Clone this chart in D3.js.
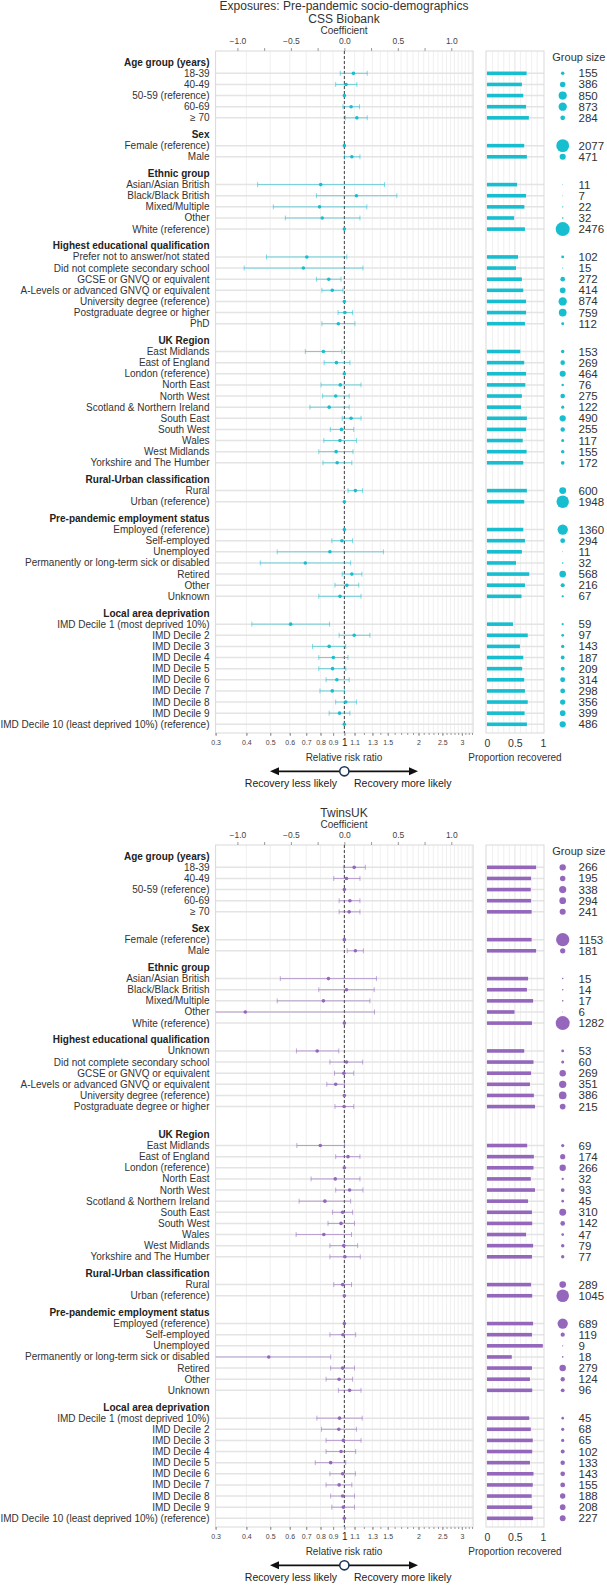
<!DOCTYPE html>
<html>
<head>
<meta charset="utf-8">
<script src="https://cdn.jsdelivr.net/npm/d3@7"></script>
<style>
  body { margin: 0; background: #fff; }
  text { font-family: "Liberation Sans", Arial, sans-serif; }
</style>
</head>
<body>
<svg id="chart"></svg>
<script>
// forest plot + proportion recovered, two cohorts stacked

var width = 607;
var height = 1585;

var groupNames = ["Age group (years)", "Sex", "Ethnic group", "Highest educational qualification",
  "UK Region", "Rural-Urban classification", "Pre-pandemic employment status", "Local area deprivation"];

var regionLabels = ["East Midlands", "East of England", "London (reference)", "North East", "North West",
  "Scotland & Northern Ireland", "South East", "South West", "Wales", "West Midlands", "Yorkshire and The Humber"];
var imdLabels = ["IMD Decile 1 (most deprived 10%)", "IMD Decile 2", "IMD Decile 3", "IMD Decile 4", "IMD Decile 5",
  "IMD Decile 6", "IMD Decile 7", "IMD Decile 8", "IMD Decile 9", "IMD Decile 10 (least deprived 10%) (reference)"];
var employLabels = ["Employed (reference)", "Self-employed", "Unemployed", "Permanently or long-term sick or disabled",
  "Retired", "Other", "Unknown"];

var cssLabels = [
  ["18-39", "40-49", "50-59 (reference)", "60-69", "\u2265 70"],
  ["Female (reference)", "Male"],
  ["Asian/Asian British", "Black/Black British", "Mixed/Multiple", "Other", "White (reference)"],
  ["Prefer not to answer/not stated", "Did not complete secondary school", "GCSE or GNVQ or equivalent",
   "A-Levels or advanced GNVQ or equivalent", "University degree (reference)", "Postgraduate degree or higher", "PhD"],
  regionLabels,
  ["Rural", "Urban (reference)"],
  employLabels,
  imdLabels
];

var twinsLabels = [
  ["18-39", "40-49", "50-59 (reference)", "60-69", "\u2265 70"],
  ["Female (reference)", "Male"],
  ["Asian/Asian British", "Black/Black British", "Mixed/Multiple", "Other", "White (reference)"],
  ["Unknown", "Did not complete secondary school", "GCSE or GNVQ or equivalent",
   "A-Levels or advanced GNVQ or equivalent", "University degree (reference)", "Postgraduate degree or higher", ""],
  regionLabels,
  ["Rural", "Urban (reference)"],
  employLabels,
  imdLabels
];

// coefficients (log relative risk), CI bounds; null = no interval
var cssEst = [0.085, 0.016, 0, 0.063, 0.117, 0, 0.07,
  -0.221, 0.113, -0.232, -0.207, 0,
  -0.351, -0.383, -0.146, -0.113, 0, 0.005, -0.056,
  -0.196, -0.074, 0, -0.038, -0.081, -0.142, 0.063, -0.027, -0.041, -0.077, -0.067,
  0.103, 0,
  0, -0.023, -0.135, -0.365, 0.07, 0.023, -0.041,
  -0.502, 0.092, -0.142, -0.103, -0.11, -0.07, -0.113, 0.013, -0.045, 0];
var cssLo = [-0.038, -0.081, null, -0.013, 0.009, null, 0.002,
  -0.811, -0.261, -0.664, -0.552, null,
  -0.728, -0.937, -0.261, -0.21, null, -0.059, -0.21,
  -0.365, -0.189, null, -0.218, -0.203, -0.322, -0.02, -0.131, -0.192, -0.239, -0.2,
  0.034, null,
  null, -0.117, -0.628, -0.786, -0.02, -0.088, -0.239,
  -0.865, -0.049, -0.297, -0.239, -0.239, -0.171, -0.228, -0.081, -0.142, null];
var cssHi = [0.214, 0.117, null, 0.142, 0.214, null, 0.146,
  0.376, 0.491, 0.21, 0.146, null,
  0.023, 0.174, -0.031, -0.013, null, 0.077, 0.099,
  -0.023, 0.052, null, 0.156, 0.045, 0.045, 0.156, 0.088, 0.113, 0.081, 0.07,
  0.171, null,
  null, 0.077, 0.365, 0.059, 0.164, 0.135, 0.156,
  -0.138, 0.239, 0.013, 0.034, 0.013, 0.045, 0.002, 0.113, 0.052, null];
var cssProp = [0.71, 0.625, 0.65, 0.70, 0.75, 0.667, 0.715,
  0.54, 0.70, 0.67, 0.486, 0.68,
  0.556, 0.52, 0.625, 0.65, 0.70, 0.70, 0.68,
  0.597, 0.667, 0.70, 0.687, 0.625, 0.61, 0.715, 0.70, 0.64, 0.71, 0.65,
  0.715, 0.667,
  0.65, 0.68, 0.625, 0.52, 0.757, 0.68, 0.618,
  0.465, 0.73, 0.59, 0.65, 0.63, 0.667, 0.68, 0.73, 0.674, 0.715];
var cssN = [155, 386, 850, 873, 284, 2077, 471,
  11, 7, 22, 32, 2476,
  102, 15, 272, 414, 874, 759, 112,
  153, 269, 464, 76, 275, 122, 490, 255, 117, 155, 172,
  600, 1948,
  1360, 294, 11, 32, 568, 216, 67,
  59, 97, 143, 187, 209, 314, 298, 356, 399, 486];

var twinsEst = [0.092, 0.02, 0, 0.052, 0.045, 0, 0.103,
  -0.149, 0.02, -0.196, -0.926, 0,
  -0.254, 0.02, -0.005, -0.081, 0, -0.002, null,
  -0.225, 0.034, 0, -0.085, 0.049, -0.182, -0.016, -0.031, -0.192, -0.005, 0.005,
  -0.016, 0,
  0, -0.013, null, -0.707, -0.016, -0.049, 0.049,
  -0.045, -0.052, -0.009, -0.031, -0.128, -0.016, -0.049, -0.016, -0.009, 0];
var twinsLo = [-0.005, -0.099, null, -0.049, -0.049, null, 0.027,
  -0.599, -0.239, -0.628, -1.3, null,
  -0.448, -0.135, -0.092, -0.164, null, -0.088, null,
  -0.444, -0.081, null, -0.311, -0.081, -0.423, -0.11, -0.153, -0.451, -0.135, -0.135,
  -0.099, null,
  null, -0.135, null, -1.3, -0.128, -0.171, -0.056,
  -0.257, -0.214, -0.171, -0.171, -0.272, -0.135, -0.171, -0.128, -0.117, null];
var twinsHi = [0.196, 0.146, null, 0.146, 0.146, null, 0.178,
  0.3, 0.279, 0.239, 0.282, null,
  -0.052, 0.171, 0.088, 0.002, null, 0.088, null,
  0.002, 0.146, null, 0.146, 0.174, 0.059, 0.077, 0.095, 0.067, 0.124, 0.149,
  0.067, null,
  null, 0.106, null, -0.128, 0.095, 0.077, 0.156,
  0.167, 0.113, 0.156, 0.106, 0.013, 0.103, 0.07, 0.095, 0.095, null];
var twinsProp = [0.88, 0.79, 0.785, 0.79, 0.80, 0.80, 0.88,
  0.736, 0.715, 0.826, 0.493, 0.806,
  0.667, 0.833, 0.79, 0.77, 0.84, 0.86, null,
  0.72, 0.84, 0.833, 0.785, 0.86, 0.736, 0.806, 0.81, 0.70, 0.826, 0.806,
  0.79, 0.81,
  0.826, 0.806, 1.0, 0.444, 0.806, 0.77, 0.81,
  0.757, 0.785, 0.82, 0.81, 0.77, 0.833, 0.82, 0.80, 0.81, 0.826];
var twinsN = [266, 195, 338, 294, 241, 1153, 181,
  15, 14, 17, 6, 1282,
  53, 60, 269, 351, 386, 215, null,
  69, 174, 266, 32, 93, 45, 310, 142, 47, 79, 77,
  289, 1045,
  689, 119, 9, 18, 279, 124, 96,
  45, 68, 65, 102, 133, 143, 155, 188, 208, 227];

var coefTicks = [-1, -0.5, 0, 0.5, 1];
var coefMinor = [-0.75, -0.25, 0.25, 0.75];
var rrTicks = [0.3, 0.4, 0.5, 0.6, 0.7, 0.8, 0.9, 1, 1.1, 1.3, 1.5, 2, 2.5, 3];
var propTicks = [0, 0.5, 1];

var svg = d3.select("#chart").attr("width", width).attr("height", height);
svg.append("rect").attr("width", width).attr("height", height).attr("fill", "#fff");

var boxL = 215.6, boxR = 473.1, boxT = 51, boxB = 733;
var xCoef = d3.scaleLinear().domain([Math.log(0.3), -Math.log(0.3)]).range([boxL, boxR]);
var xRR = d3.scaleLog().domain([0.3, 1 / 0.3]).range([boxL, boxR]);
var xProp = d3.scaleLinear().domain([0, 1]).range([487, 542.8]);
var yRow = d3.scaleLinear().domain([0, 59.5]).range([62.2, 724.3]);

var textCol = "#333";

// row layout: header, items, half-row gap between groups
var layout = function(labels) {
  var rows = [], heads = [], idx = 0, k = 0;
  labels.forEach(function(items, gi) {
    if (gi > 0) idx += 1.5;
    heads.push({ name: groupNames[gi], pos: idx });
    items.forEach(function(lab) {
      idx += 1;
      rows.push({ label: lab, pos: idx, i: k });
      k++;
    });
  });
  return { rows: rows, heads: heads };
};

var drawPanel = function(offset, titles, labels, est, lo, hi, prop, n, color, clipId) {
  var g = svg.append("g").attr("transform", "translate(0," + offset + ")");
  var lay = layout(labels);
  var nMax = d3.max(n);
  var rScale = d3.scaleSqrt().domain([0, nMax]).range([0, 7]);

  titles.forEach(function(t, i) {
    g.append("text").attr("x", 344).attr("y", 19 - 13 * (titles.length - 1 - i))
      .attr("dy", "0.35em").attr("text-anchor", "middle")
      .attr("font-size", 12).attr("fill", textCol).text(t);
  });
  g.append("text").attr("x", 344).attr("y", 30.7).attr("dy", "0.35em")
    .attr("text-anchor", "middle").attr("font-size", 10).attr("fill", textCol).text("Coefficient");

  // vertical grid (every 0.1 in RR)
  g.append("g").selectAll("line").data(d3.range(4, 34).map(function(d) { return d / 10; }))
    .enter().append("line")
    .attr("x1", function(d) { return xRR(d); }).attr("x2", function(d) { return xRR(d); })
    .attr("y1", boxT).attr("y2", boxB)
    .attr("stroke", "#ececec").attr("stroke-width", 0.8);

  // right panel grid
  g.append("g").selectAll("line").data(d3.range(1, 10).map(function(d) { return d / 10; }))
    .enter().append("line")
    .attr("x1", function(d) { return xProp(d); }).attr("x2", function(d) { return xProp(d); })
    .attr("y1", boxT).attr("y2", boxB)
    .attr("stroke", function(d) { return d === 0.5 ? "#dedede" : "#ececec"; }).attr("stroke-width", 0.8);

  var items = lay.rows.filter(function(r) { return r.label !== ""; });

  // horizontal row lines
  g.append("g").selectAll("line").data(items).enter().append("line")
    .attr("x1", boxL).attr("x2", boxR)
    .attr("y1", function(d) { return yRow(d.pos); }).attr("y2", function(d) { return yRow(d.pos); })
    .attr("stroke", "#e4e4e4").attr("stroke-width", 1.5);
  g.append("g").selectAll("line").data(items).enter().append("line")
    .attr("x1", 486).attr("x2", 544)
    .attr("y1", function(d) { return yRow(d.pos); }).attr("y2", function(d) { return yRow(d.pos); })
    .attr("stroke", "#e4e4e4").attr("stroke-width", 1.5);

  // boxes
  g.append("rect").attr("x", boxL).attr("y", boxT).attr("width", boxR - boxL).attr("height", boxB - boxT)
    .attr("fill", "none").attr("stroke", "#d9d9d9").attr("stroke-width", 1);
  g.append("rect").attr("x", 486).attr("y", boxT).attr("width", 58).attr("height", boxB - boxT)
    .attr("fill", "none").attr("stroke", "#d9d9d9").attr("stroke-width", 1);

  // zero line
  g.append("line").attr("x1", xCoef(0)).attr("x2", xCoef(0)).attr("y1", boxT).attr("y2", boxB)
    .attr("stroke", "#111").attr("stroke-width", 0.8).attr("stroke-dasharray", "3,2");

  // top axis (coefficient)
  var top = g.append("g").attr("transform", "translate(0," + boxT + ")")
    .call(d3.axisTop(xCoef).tickValues(coefTicks).tickFormat(d3.format(".1f")).tickSize(3).tickPadding(4));
  var topMinor = g.append("g").attr("transform", "translate(0," + boxT + ")")
    .call(d3.axisTop(xCoef).tickValues(coefMinor).tickFormat("").tickSize(3));
  [top, topMinor].forEach(function(a) {
    a.select(".domain").remove();
    a.selectAll("line").attr("stroke", "#999");
    a.selectAll("text").attr("font-size", 8.5).attr("fill", "#444")
      .attr("font-family", "Liberation Sans, Arial, sans-serif");
  });

  // bottom axis (relative risk)
  var bot = g.append("g").attr("transform", "translate(0," + boxB + ")")
    .call(d3.axisBottom(xRR).tickValues(rrTicks).tickFormat(function(d) { return String(d); }).tickSize(3).tickPadding(4));
  var botMinor = g.append("g").attr("transform", "translate(0," + boxB + ")")
    .call(d3.axisBottom(xRR).tickValues(d3.range(3, 34).map(function(d) { return d / 10; })).tickFormat("").tickSize(2));
  [bot, botMinor].forEach(function(a) {
    a.select(".domain").remove();
    a.selectAll("line").attr("stroke", "#999");
  });
  bot.selectAll("text").attr("font-size", 7).attr("fill", "#444")
    .attr("font-family", "Liberation Sans, Arial, sans-serif");
  bot.selectAll(".tick").filter(function(d) { return d === 1; }).select("text")
    .attr("font-size", 10).attr("y", 6).attr("fill", "#222");

  // proportion axis
  var pa = g.append("g").attr("transform", "translate(0," + boxB + ")")
    .call(d3.axisBottom(xProp).tickValues(propTicks).tickFormat(d3.format("")).tickSize(0).tickPadding(7));
  pa.select(".domain").remove();
  pa.selectAll("text").attr("font-size", 10.5).attr("fill", "#333")
    .attr("font-family", "Liberation Sans, Arial, sans-serif");

  g.append("text").attr("x", 344).attr("y", 757).attr("dy", "0.35em").attr("text-anchor", "middle")
    .attr("font-size", 10).attr("fill", textCol).text("Relative risk ratio");
  g.append("text").attr("x", 515).attr("y", 757).attr("dy", "0.35em").attr("text-anchor", "middle")
    .attr("font-size", 10).attr("fill", textCol).text("Proportion recovered");

  // direction arrow
  var ay = 771.3;
  g.append("line").attr("x1", 276).attr("x2", 412).attr("y1", ay).attr("y2", ay)
    .attr("stroke", "#111").attr("stroke-width", 1.8);
  g.append("path").attr("d", "M270," + ay + "l9,-4l0,8z").attr("fill", "#111");
  g.append("path").attr("d", "M418," + ay + "l-9,-4l0,8z").attr("fill", "#111");
  g.append("circle").attr("cx", xRR(1)).attr("cy", ay).attr("r", 4.6)
    .attr("fill", "#fff").attr("stroke", "#1b3556").attr("stroke-width", 1.6);
  g.append("text").attr("x", 337).attr("y", 783).attr("dy", "0.35em").attr("text-anchor", "end")
    .attr("font-size", 10.5).attr("fill", "#222").text("Recovery less likely");
  g.append("text").attr("x", 354).attr("y", 783).attr("dy", "0.35em").attr("text-anchor", "start")
    .attr("font-size", 10.5).attr("fill", "#222").text("Recovery more likely");

  // labels
  g.append("g").selectAll("text").data(lay.heads).enter().append("text")
    .attr("x", 209.5).attr("y", function(d) { return yRow(d.pos); }).attr("dy", "0.35em")
    .attr("text-anchor", "end").attr("font-size", 10).attr("font-weight", "bold").attr("fill", "#222")
    .text(function(d) { return d.name; });
  g.append("g").selectAll("text").data(items).enter().append("text")
    .attr("x", 209.5).attr("y", function(d) { return yRow(d.pos); }).attr("dy", "0.35em")
    .attr("text-anchor", "end").attr("font-size", 10).attr("fill", textCol)
    .text(function(d) { return d.label; });

  // confidence intervals
  g.append("clipPath").attr("id", clipId).append("rect")
    .attr("x", boxL).attr("y", boxT).attr("width", boxR - boxL).attr("height", boxB - boxT);
  var ci = g.append("g").attr("clip-path", "url(#" + clipId + ")");
  var withCi = items.filter(function(d) { return lo[d.i] !== null && hi[d.i] !== null; });
  ci.selectAll("line.ci").data(withCi).enter().append("line")
    .attr("x1", function(d) { return xCoef(lo[d.i]); }).attr("x2", function(d) { return xCoef(hi[d.i]); })
    .attr("y1", function(d) { return yRow(d.pos); }).attr("y2", function(d) { return yRow(d.pos); })
    .attr("stroke", color).attr("stroke-opacity", 0.55).attr("stroke-width", 1);
  [lo, hi].forEach(function(arr) {
    ci.selectAll(null).data(withCi).enter().append("line")
      .attr("x1", function(d) { return xCoef(arr[d.i]); }).attr("x2", function(d) { return xCoef(arr[d.i]); })
      .attr("y1", function(d) { return yRow(d.pos) - 2.5; }).attr("y2", function(d) { return yRow(d.pos) + 2.5; })
      .attr("stroke", color).attr("stroke-opacity", 0.55).attr("stroke-width", 1);
  });
  ci.selectAll("circle").data(items.filter(function(d) { return est[d.i] !== null; })).enter().append("circle")
    .attr("cx", function(d) { return xCoef(est[d.i]); }).attr("cy", function(d) { return yRow(d.pos); })
    .attr("r", 1.8).attr("fill", color);

  // proportion bars
  g.append("g").selectAll("rect").data(items.filter(function(d) { return prop[d.i] !== null; })).enter().append("rect")
    .attr("x", xProp(0)).attr("y", function(d) { return yRow(d.pos) - 1.8; })
    .attr("width", function(d) { return xProp(prop[d.i]) - xProp(0); }).attr("height", 3.6)
    .attr("fill", color);

  // group size legend
  g.append("text").attr("x", 552.3).attr("y", 57.3).attr("dy", "0.35em")
    .attr("font-size", 11).attr("fill", textCol).text("Group size");
  var sized = items.filter(function(d) { return n[d.i] !== null; });
  g.append("g").selectAll("circle").data(sized).enter().append("circle")
    .attr("cx", 562.7).attr("cy", function(d) { return yRow(d.pos); })
    .attr("r", function(d) { return Math.max(0.4, rScale(n[d.i])); }).attr("fill", color);
  g.append("g").selectAll("text").data(sized).enter().append("text")
    .attr("x", 578.5).attr("y", function(d) { return yRow(d.pos); }).attr("dy", "0.35em")
    .attr("font-size", 11.5).attr("fill", textCol).text(function(d) { return n[d.i]; });
};

drawPanel(0, ["Exposures: Pre-pandemic socio-demographics", "CSS Biobank"], cssLabels,
  cssEst, cssLo, cssHi, cssProp, cssN, "#17becf", "clip-css");
drawPanel(794, ["TwinsUK"], twinsLabels,
  twinsEst, twinsLo, twinsHi, twinsProp, twinsN, "#9467bd", "clip-twins");
</script>
</body>
</html>
